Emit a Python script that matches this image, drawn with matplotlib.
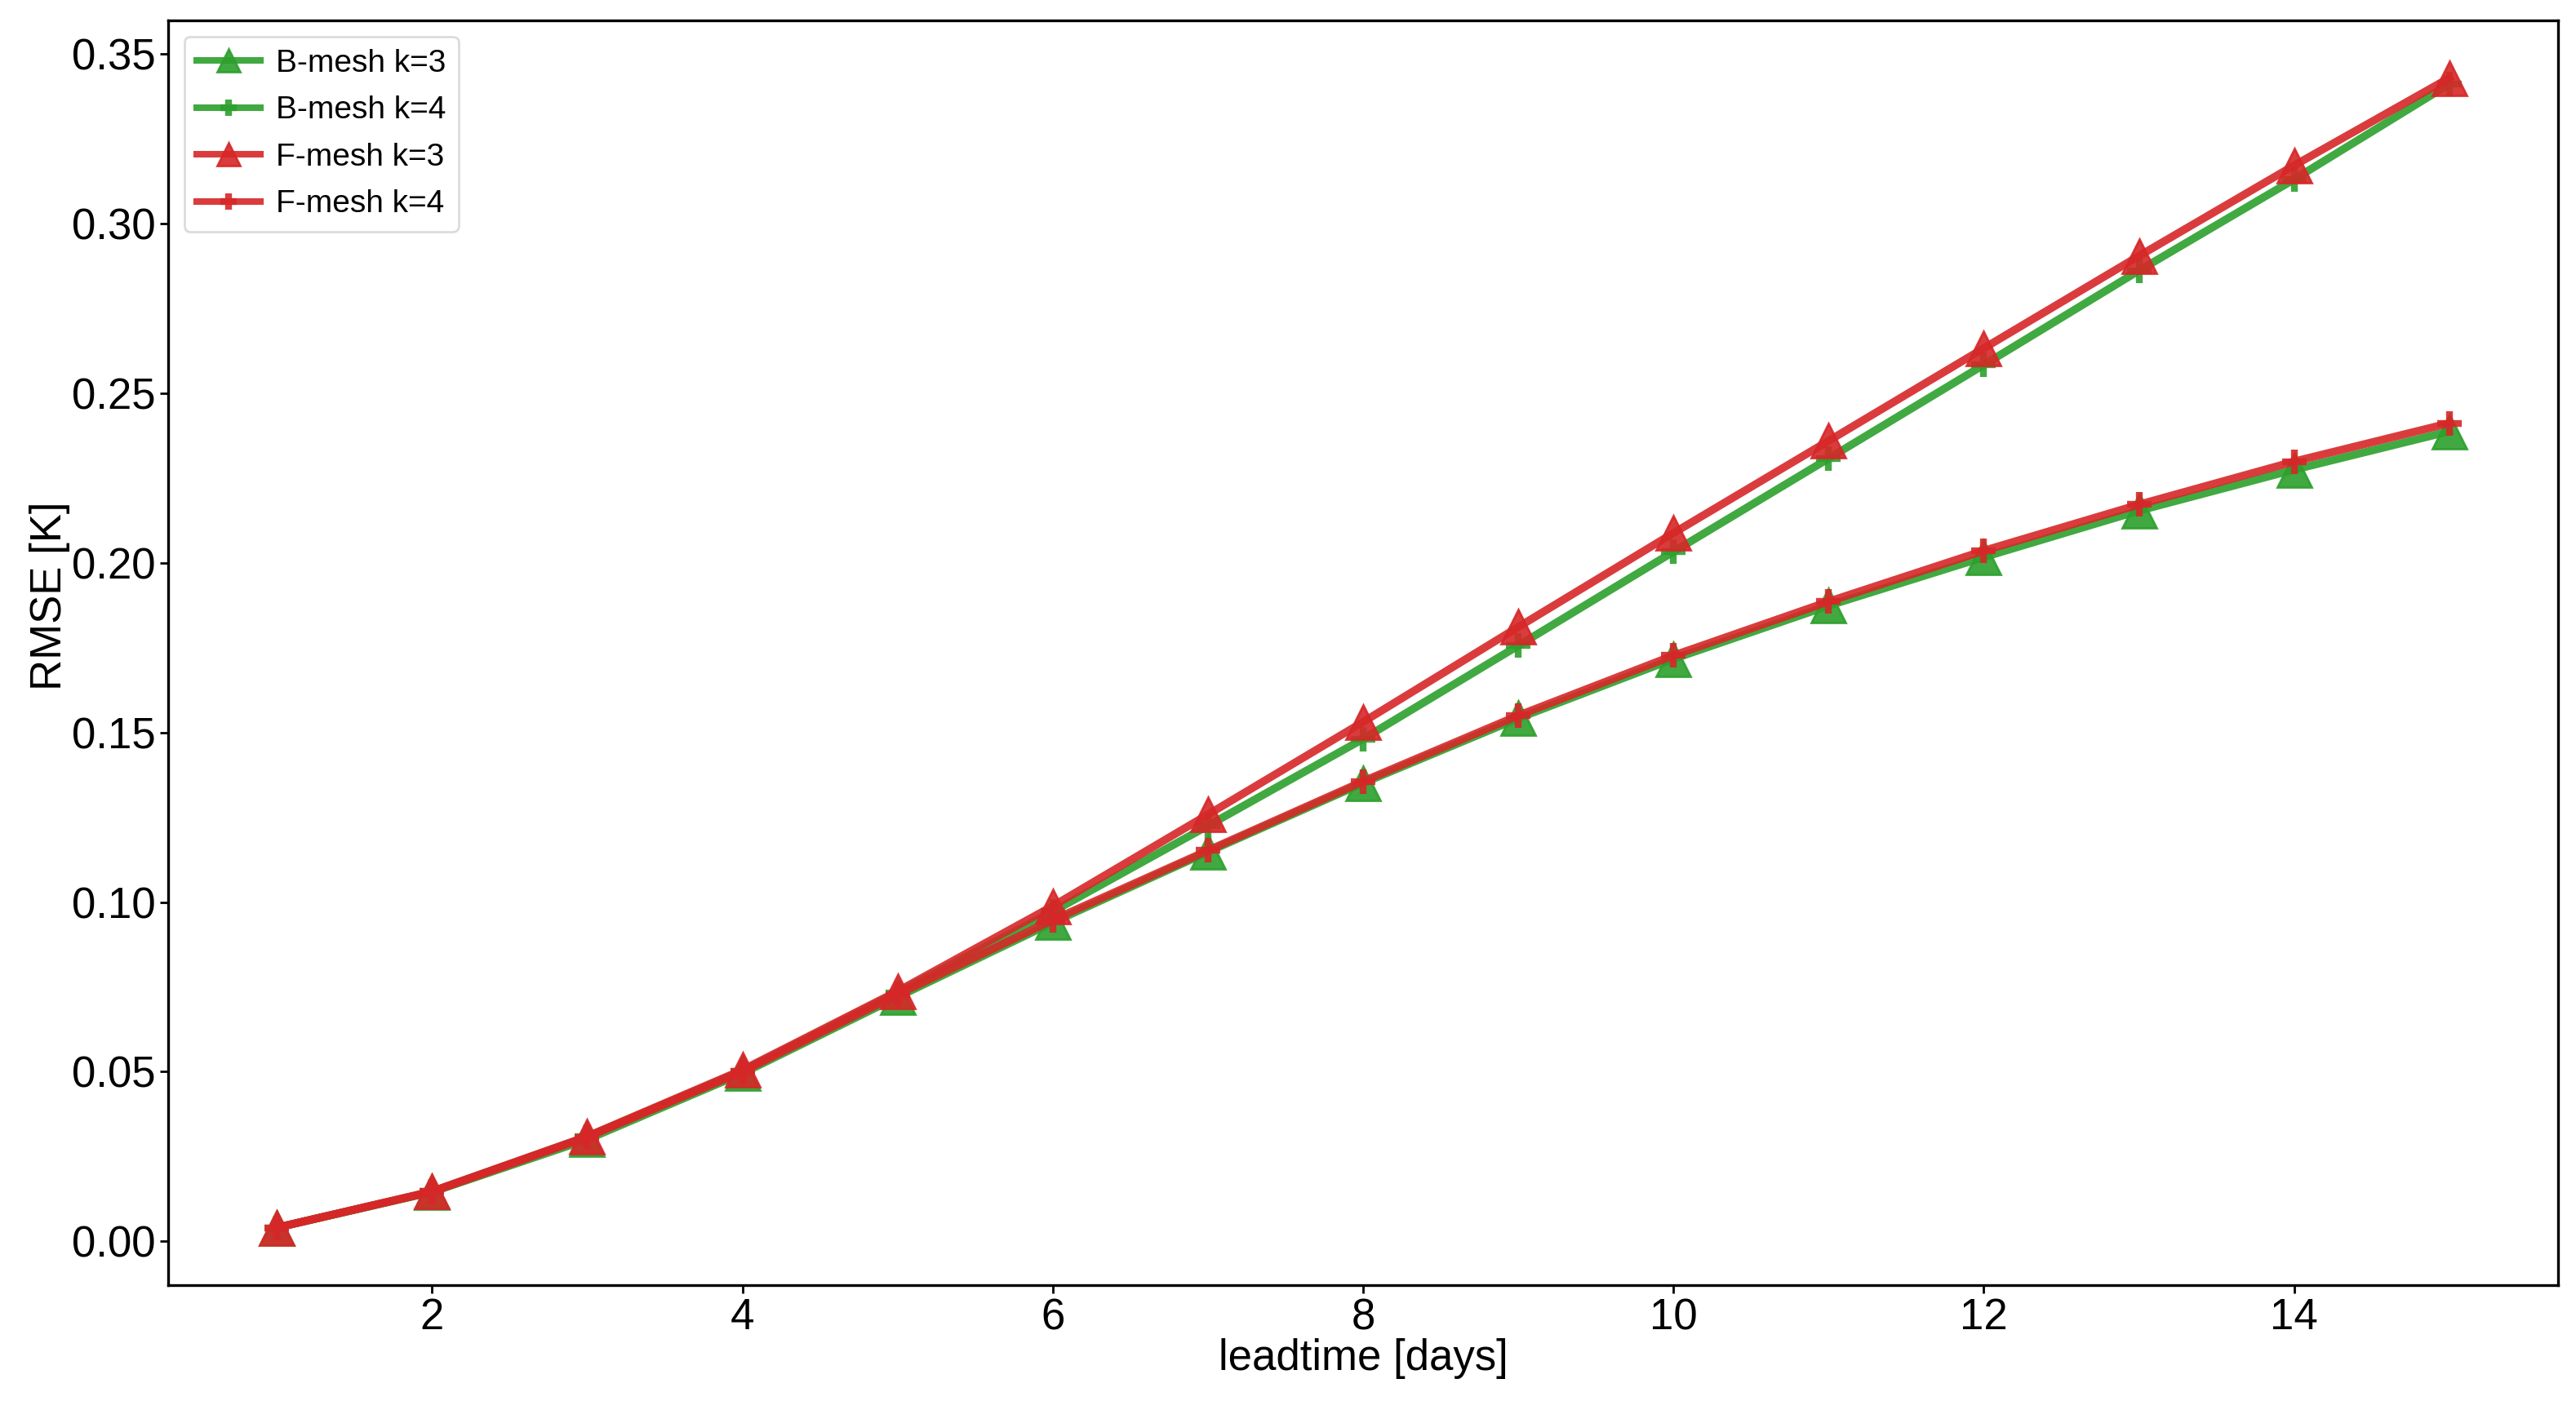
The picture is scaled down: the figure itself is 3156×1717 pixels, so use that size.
import matplotlib
matplotlib.use('Agg')
from matplotlib import pyplot as plt

# leadtime in days
days = list(range(1, 16))

# RMSE [K]
b_mesh_k3 = [0.0040, 0.0145, 0.0300, 0.0495, 0.0720, 0.0940, 0.1148, 0.1351,
             0.1542, 0.1717, 0.1874, 0.2017, 0.2154, 0.2275, 0.2388]
b_mesh_k4 = [0.0040, 0.0146, 0.0308, 0.0502, 0.0733, 0.0972, 0.1225, 0.1481,
             0.1756, 0.2033, 0.2308, 0.2584, 0.2862, 0.3131, 0.3412]
f_mesh_k3 = [0.0040, 0.0147, 0.0309, 0.0505, 0.0737, 0.0988, 0.1258, 0.1531,
             0.1811, 0.2088, 0.2360, 0.2633, 0.2905, 0.3172, 0.3430]
f_mesh_k4 = [0.0040, 0.0146, 0.0307, 0.0500, 0.0727, 0.0947, 0.1152, 0.1356,
             0.1550, 0.1727, 0.1886, 0.2036, 0.2172, 0.2299, 0.2412]

plt.rcParams['font.family'] = ['Liberation Sans', 'DejaVu Sans']

fig = plt.figure(figsize=(15.78, 8.585), dpi=200)
ax = fig.add_axes([0.0653, 0.0827, 0.9277, 0.9027])

green = 'tab:green'
red = 'tab:red'
ax.plot(days, b_mesh_k3, color=green, marker='^', markersize=15, lw=3.5, alpha=0.9, label='B-mesh k=3')
ax.plot(days, b_mesh_k4, color=green, marker='+', markersize=11, mew=3, lw=3.5, alpha=0.9, label='B-mesh k=4')
ax.plot(days, f_mesh_k3, color=red, marker='^', markersize=15, lw=3.5, alpha=0.9, label='F-mesh k=3')
ax.plot(days, f_mesh_k4, color=red, marker='+', markersize=11, mew=3, lw=3.5, alpha=0.9, label='F-mesh k=4')

ax.set_xlabel('leadtime [days]', fontsize=19, labelpad=0)
ax.set_ylabel('RMSE [K]', fontsize=19)
ax.yaxis.set_label_coords(-0.041, 0.545)
ax.tick_params(labelsize=19, width=1, length=3.5, pad=2)
for s in ax.spines.values():
    s.set_linewidth(1.2)

leg = ax.legend(loc='upper left', fontsize=14, markerscale=0.65, labelspacing=0.55,
                handlelength=2, handletextpad=0.5, edgecolor='lightgray')
for ln in leg.get_lines():
    ln.set_linewidth(2.9)

fig.savefig('out.png', dpi=200)
